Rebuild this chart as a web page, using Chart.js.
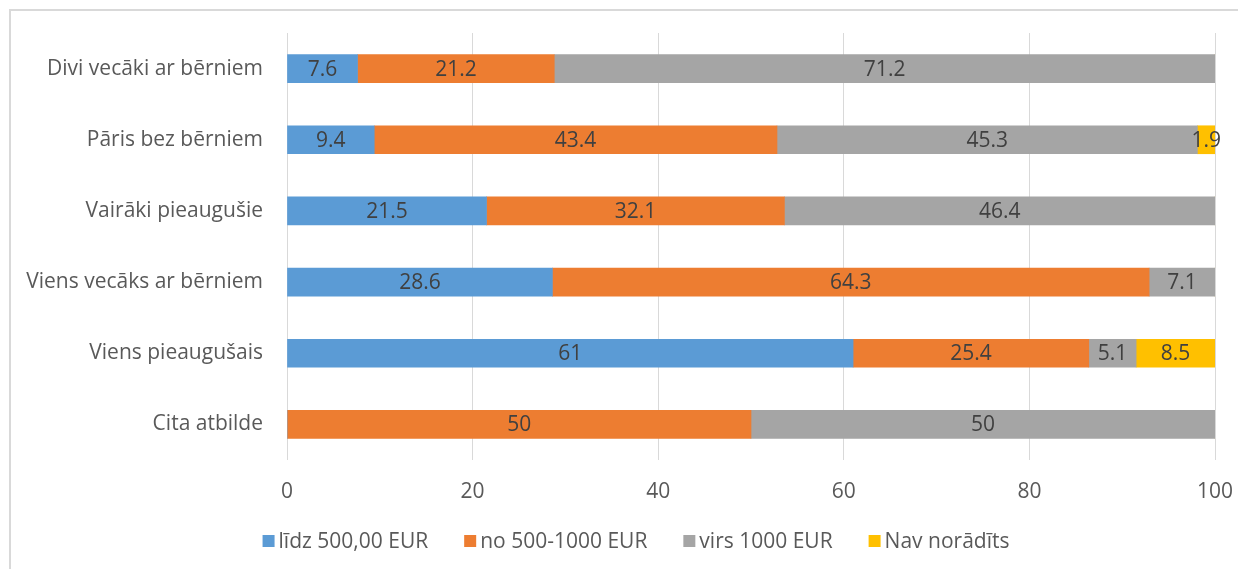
<!DOCTYPE html>
<html>
<head>
<meta charset="utf-8">
<script src="https://cdn.jsdelivr.net/npm/chart.js@4.4.1/dist/chart.umd.min.js"></script>
<style>
  html, body { margin: 0; padding: 0; background: #fff; }
  #wrap { width: 1238px; height: 569px; position: relative; }
</style>
</head>
<body>
<div id="wrap"><canvas id="bar_chart" width="1238" height="569"></canvas></div>
<script>
// categories (top to bottom)
var categories = ["Divi vecāki ar bērniem", "Pāris bez bērniem", "Vairāki pieaugušie",
                  "Viens vecāks ar bērniem", "Viens pieaugušais", "Cita atbilde"];
var seriesNames = ["līdz 500,00 EUR", "no 500-1000 EUR", "virs 1000 EUR", "Nav norādīts"];
var seriesColors = ["#5b9bd5", "#ed7d31", "#a5a5a5", "#ffc000"];
var upTo500 =   [7.6, 9.4, 21.5, 28.6, 61, 0];
var from500 =   [21.2, 43.4, 32.1, 64.3, 25.4, 50];
var over1000 =  [71.2, 45.3, 46.4, 7.1, 5.1, 50];
var notGiven =  [0, 1.9, 0, 0, 8.5, 0];
var xTicks = [0, 20, 40, 60, 80, 100];

var FONT = "'Open Sans', Lato, sans-serif";
var FS = 21;

document.addEventListener("DOMContentLoaded", function() {

    // frame, value labels inside segments and the legend row
    var labelPlugin = {
        id: 'segLabels',
        beforeDraw: function(chart) {
            var c = chart.ctx;
            c.save();
            c.strokeStyle = '#d9d9d9';
            c.lineWidth = 2;
            c.beginPath();
            c.moveTo(10, 569);
            c.lineTo(10, 10);
            c.lineTo(1238, 10);
            c.stroke();
            c.restore();
        },
        afterDatasetsDraw: function(chart) {
            var c = chart.ctx;
            c.save();
            c.font = FS + "px " + FONT;
            c.fillStyle = '#404040';
            c.textAlign = 'center';
            c.textBaseline = 'middle';
            chart.data.datasets.forEach(function(ds, i) {
                var meta = chart.getDatasetMeta(i);
                meta.data.forEach(function(bar, j) {
                    var v = ds.data[j];
                    if (!v) return;
                    var cx = (bar.x + bar.base) / 2;
                    c.fillText(String(v), cx, bar.y + 1);
                });
            });
            c.restore();
        },
        afterDraw: function(chart) {
            var c = chart.ctx;
            c.save();
            c.font = FS + "px " + FONT;
            c.textBaseline = 'middle';
            c.textAlign = 'left';
            var box = 12, gap = 4, itemGap = 36, y = 541;
            var widths = seriesNames.map(function(n) { return box + gap + c.measureText(n).width; });
            var total = widths.reduce(function(a, b) { return a + b; }, 0) + itemGap * (widths.length - 1);
            var x = 636 - total / 2;
            seriesNames.forEach(function(n, i) {
                c.fillStyle = seriesColors[i];
                c.fillRect(x, y - box / 2, box, box);
                c.fillStyle = '#595959';
                c.fillText(n, x + box + gap, y + 1);
                x += widths[i] + itemGap;
            });
            c.restore();
        }
    };

    var ctx = document.getElementById('bar_chart').getContext('2d');
    var myChart = new Chart(ctx, {
        type: 'bar',
        data: {
            labels: categories,
            datasets: [
                { label: seriesNames[0], data: upTo500, backgroundColor: seriesColors[0] },
                { label: seriesNames[1], data: from500, backgroundColor: seriesColors[1] },
                { label: seriesNames[2], data: over1000, backgroundColor: seriesColors[2] },
                { label: seriesNames[3], data: notGiven, backgroundColor: seriesColors[3] }
            ]
        },
        plugins: [labelPlugin],
        options: {
            indexAxis: 'y',
            responsive: false,
            animation: false,
            devicePixelRatio: 1,
            barThickness: 28,
            layout: { padding: { top: 33, right: 23, bottom: 67, left: 0 } },
            scales: {
                x: {
                    stacked: true,
                    min: 0, max: 100,
                    afterBuildTicks: function(scale) {
                        scale.ticks = xTicks.map(function(v) { return { value: v }; });
                    },
                    grid: { color: '#d9d9d9', lineWidth: 1, drawTicks: false },
                    border: { display: false },
                    ticks: { color: '#595959', font: { family: FONT, size: FS }, padding: 19 },
                    afterFit: function(scale) {
                        scale.height = 42;
                        scale.paddingLeft = 0;
                        scale.paddingRight = 0;
                    }
                },
                y: {
                    stacked: true,
                    grid: { display: false },
                    border: { display: false },
                    ticks: { color: '#595959', font: { family: FONT, size: FS }, padding: 16 },
                    afterFit: function(scale) { scale.width = 287; }
                }
            },
            plugins: {
                tooltip: { enabled: false },
                legend: { display: false }
            }
        }
    });
});
</script>
</body>
</html>
